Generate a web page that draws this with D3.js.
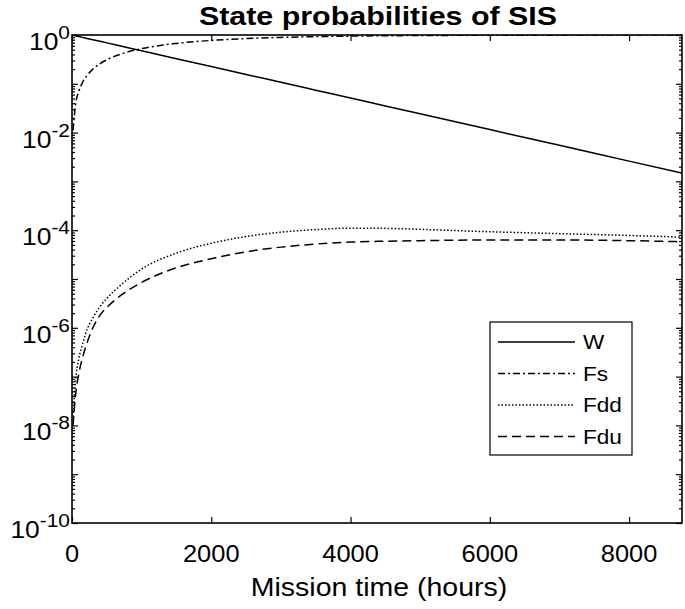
<!DOCTYPE html>
<html><head><meta charset="utf-8">
<script src="https://cdn.jsdelivr.net/npm/d3@7"></script>
<style>body{margin:0;background:#fff}svg{display:block}text{font-family:"Liberation Sans",Arial,sans-serif}</style>
</head><body><svg id="c" width="685" height="609"></svg>
<script>
const hours = [15,50,100,150,200,300,400,500,700,1000,1500,2000,2500,3000,3500,4000,4500,5000,6000,7000,8000,8760];
const W   = [0.9889,0.9635,0.9283,0.8944,0.8617,0.8000,0.7426,0.6894,0.5941,0.4752,0.3276,0.2258,0.1557,0.1073,0.0740,0.0510,0.0352,0.02425,0.01152,0.00548,0.002603,0.001479];
const Fs  = [0.0111,0.0365,0.0717,0.1056,0.138,0.200,0.257,0.311,0.406,0.525,0.672,0.774,0.844,0.893,0.926,0.949,0.965,0.976,0.988,0.9944,0.9973,0.9984];
const Fdd = [1.5e-8,8e-8,2.4e-7,4.5e-7,8e-7,1.6e-6,2.7e-6,4e-6,7.5e-6,1.6e-5,3.4e-5,5.4e-5,7.4e-5,9.1e-5,1.03e-4,1.1e-4,1.09e-4,1.04e-4,9.3e-5,8.5e-5,7.8e-5,7.2e-5];
const Fdu = [1e-8,4e-8,1.2e-7,2.4e-7,4.2e-7,1.0e-6,1.8e-6,2.6e-6,4.6e-6,8.5e-6,1.7e-5,2.6e-5,3.6e-5,4.5e-5,5.2e-5,5.7e-5,5.95e-5,6.1e-5,6.3e-5,6.3e-5,6.1e-5,5.8e-5];
const seriesNames = ["W","Fs","Fdd","Fdu"];
const xTicks = [0,2000,4000,6000,8000];
const yExponents = [0,-2,-4,-6,-8,-10];

const svg = d3.select("#c");
const L=72,R=682,T=35,B=523;
const x = d3.scaleLinear().domain([0,8760]).range([L,R]);
const y = d3.scaleLog().domain([1e-10,1]).range([B,T]);
const SX = 1.13;

const series = [
  {name:"W", vals:W, dash:null},
  {name:"Fs", vals:Fs, dash:"7,3,2,3"},
  {name:"Fdd", vals:Fdd, dash:"1.5,2"},
  {name:"Fdu", vals:Fdu, dash:"9,5"}
];

const line = d3.line().x(d=>x(d[0])).y(d=>y(d[1])).curve(d3.curveMonotoneX);
svg.append("clipPath").attr("id","pc").append("rect").attr("x",L).attr("y",T).attr("width",R-L).attr("height",B-T);
const g = svg.append("g").attr("clip-path","url(#pc)");
series.forEach(s=>{
  const pts = (s.name==="W") ? [[0,1]].concat(hours.map((h,i)=>[h,s.vals[i]])) : hours.map((h,i)=>[h,s.vals[i]]);
  g.append("path").attr("d",line(pts)).attr("fill","none").attr("stroke","#000")
   .attr("stroke-width",1.5).attr("stroke-dasharray",s.dash);
});

// ticks inward
const xAxB = d3.axisBottom(x).tickValues(xTicks).tickSizeInner(-6).tickSizeOuter(0).tickFormat("");
const xAxT = d3.axisTop(x).tickValues(xTicks).tickSizeInner(-6).tickSizeOuter(0).tickFormat("");
svg.append("g").attr("transform",`translate(0,${B})`).call(xAxB).call(a=>a.select(".domain").remove());
svg.append("g").attr("transform",`translate(0,${T})`).call(xAxT).call(a=>a.select(".domain").remove());
const major=[], minor=[];
for(let e=-10;e<=0;e++){ major.push(Math.pow(10,e)); if(e<0) for(let m=2;m<=9;m++) minor.push(m*Math.pow(10,e)); }
[[d3.axisLeft,L],[d3.axisRight,R]].forEach(([fn,pos])=>{
  svg.append("g").attr("transform",`translate(${pos},0)`).call(fn(y).tickValues(major).tickSizeInner(-6).tickSizeOuter(0).tickFormat("")).call(a=>a.select(".domain").remove());
  svg.append("g").attr("transform",`translate(${pos},0)`).call(fn(y).tickValues(minor).tickSizeInner(-3).tickSizeOuter(0).tickFormat("")).call(a=>a.select(".domain").remove());
});
svg.selectAll(".tick line").attr("stroke","#000").attr("stroke-width",1.2);
svg.append("rect").attr("x",L).attr("y",T).attr("width",R-L).attr("height",B-T).attr("fill","none").attr("stroke","#000").attr("stroke-width",1.6);

// x tick labels
svg.append("g").selectAll("text").data(xTicks).join("text")
  .attr("transform",d=>`translate(${x(d)},562) scale(1.06,1)`).attr("text-anchor","middle").attr("font-size",24).text(d=>d);
// y tick labels
const yl = svg.append("g").selectAll("text").data(yExponents).join("text")
  .attr("transform",d=>`translate(70,${y(Math.pow(10,d))+15}) scale(1.1,1)`).attr("text-anchor","end").attr("font-size",24);
yl.append("tspan").text("10");
yl.append("tspan").attr("dy",-11).attr("font-size",19).text(d=>d===0?"0":"-"+(-d));

// title & axis label
svg.append("text").attr("transform",`translate(${(L+R)/2+1},25) scale(1.17,1)`).attr("text-anchor","middle").attr("font-size",26).attr("font-weight","bold").text("State probabilities of SIS");
svg.append("text").attr("transform",`translate(${(L+R)/2+2},596) scale(1.14,1)`).attr("text-anchor","middle").attr("font-size",25).text("Mission time (hours)");

// legend
const lg = svg.append("g");
lg.append("rect").attr("x",490).attr("y",322).attr("width",142).attr("height",133).attr("fill","#fff").attr("stroke","#000").attr("stroke-width",1.2);
series.forEach((s,i)=>{
  const yy = 342 + i*31.5;
  lg.append("line").attr("x1",498).attr("x2",575).attr("y1",yy).attr("y2",yy).attr("stroke","#000").attr("stroke-width",1.4).attr("stroke-dasharray",s.dash);
  lg.append("text").attr("transform",`translate(583,${yy+7}) scale(${SX},1)`).attr("font-size",20).text(seriesNames[i]);
});
</script></body></html>
